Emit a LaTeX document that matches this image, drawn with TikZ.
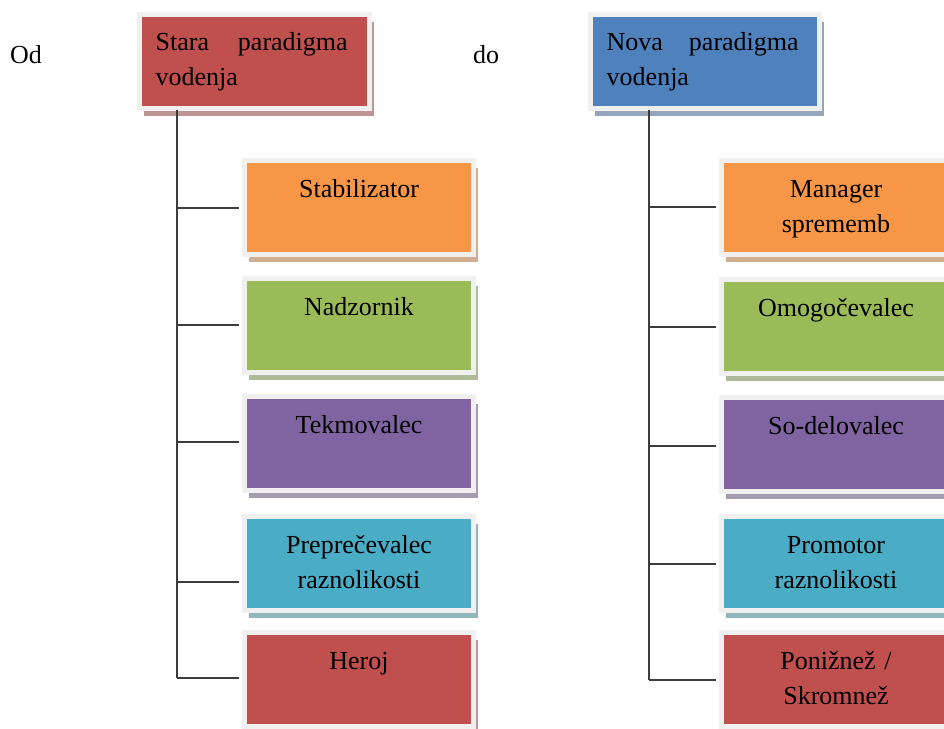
\documentclass[tikz,border=0pt]{standalone}
\usepackage{fontspec}
\setmainfont{Liberation Serif}
\usetikzlibrary{shadows}
\definecolor{cRed}{HTML}{C0504D}
\definecolor{cBlue}{HTML}{4F81BD}
\definecolor{cOrange}{HTML}{F79646}
\definecolor{cGreen}{HTML}{9BBB59}
\definecolor{cPurple}{HTML}{8064A2}
\definecolor{cAqua}{HTML}{4BACC6}
\definecolor{frameGray}{HTML}{F0F0F0}
\definecolor{lineGray}{HTML}{3C3C3C}
\begin{document}
\begin{tikzpicture}[x=1pt,y=-1pt,
  card/.style={draw=frameGray, line width=5pt, fill=#1, inner sep=0pt,
    minimum width=229pt, minimum height=94pt,
    drop shadow={shadow xshift=4pt, shadow yshift=-7pt, fill=#1!50!gray!70!white, opacity=1}},
  ctext/.style={anchor=north, inner sep=0pt, text width=215pt, align=center,
    font=\fontsize{26}{35}\selectfont, yshift=-14.5pt},
  ttext/.style={anchor=north west, inner sep=0pt, text width=192pt, align=left,
    font=\fontsize{26}{35}\selectfont, xshift=18.5pt, yshift=-13.5pt},
  plain/.style={anchor=base west, inner sep=0pt, font=\fontsize{26}{35}\selectfont},
  conn/.style={draw=lineGray, line width=1.8pt}
]
\useasboundingbox (0,0) rectangle (944,728);
\clip (0,0) rectangle (944,728);
\fill[white] (0,0) rectangle (944,728);

% headings
\node[plain] (od) at (10,63) {Od};
\node[plain] (do) at (473,63) {do};

% top boxes
\node[card=cRed, minimum width=230pt] (L0) at (254.5,61.5) {};
\node[ttext] (L0t) at (L0.north west) {\strut Stara\hfill paradigma\\vodenja};
\node[card=cBlue] (R0) at (705,61.5) {};
\node[ttext] (R0t) at (R0.north west) {\strut Nova\hfill paradigma\\vodenja};

% left column
\node[card=cOrange] (L1) at (359,207.5) {};
\node[card=cGreen]  (L2) at (359,325.5) {};
\node[card=cPurple] (L3) at (359,443.5) {};
\node[card=cAqua]   (L4) at (359,563.5) {};
\node[card=cRed]    (L5) at (359,679.5) {};
\node[ctext] (L1t) at (L1.north) {\strut Stabilizator};
\node[ctext] (L2t) at (L2.north) {\strut Nadzornik};
\node[ctext] (L3t) at (L3.north) {\strut Tekmovalec};
\node[ctext] (L4t) at (L4.north) {\strut Preprečevalec\\raznolikosti};
\node[ctext] (L5t) at (L5.north) {\strut Heroj};

% right column
\node[card=cOrange] (R1) at (836,207.5) {};
\node[card=cGreen]  (R2) at (836,326.5) {};
\node[card=cPurple] (R3) at (836,444.5) {};
\node[card=cAqua]   (R4) at (836,563.5) {};
\node[card=cRed]    (R5) at (836,679.5) {};
\node[ctext] (R1t) at (R1.north) {\strut Manager\\sprememb};
\node[ctext] (R2t) at (R2.north) {\strut Omogočevalec};
\node[ctext] (R3t) at (R3.north) {\strut So-delovalec};
\node[ctext] (R4t) at (R4.north) {\strut Promotor\\raznolikosti};
\node[ctext] (R5t) at (R5.north) {\strut Ponižnež /\\Skromnež};

% left connectors
\coordinate (LT) at (177,110);
\coordinate (l1) at (177,208);
\coordinate (l2) at (177,325);
\coordinate (l3) at (177,442);
\coordinate (l4) at (177,582);
\coordinate (l5) at (177,678);
\draw[conn] (LT) -- (l5);
\foreach \i in {1,...,5}{
  \draw[conn] (l\i) -- ([xshift=-3pt]l\i -| L\i.west);
}

% right connectors
\coordinate (RT) at (649,110);
\coordinate (r1) at (649,207);
\coordinate (r2) at (649,327);
\coordinate (r3) at (649,446);
\coordinate (r4) at (649,564);
\coordinate (r5) at (649,680);
\draw[conn] (RT) -- (r5);
\foreach \i in {1,...,5}{
  \draw[conn] (r\i) -- ([xshift=-3pt]r\i -| R\i.west);
}
\end{tikzpicture}
\end{document}
